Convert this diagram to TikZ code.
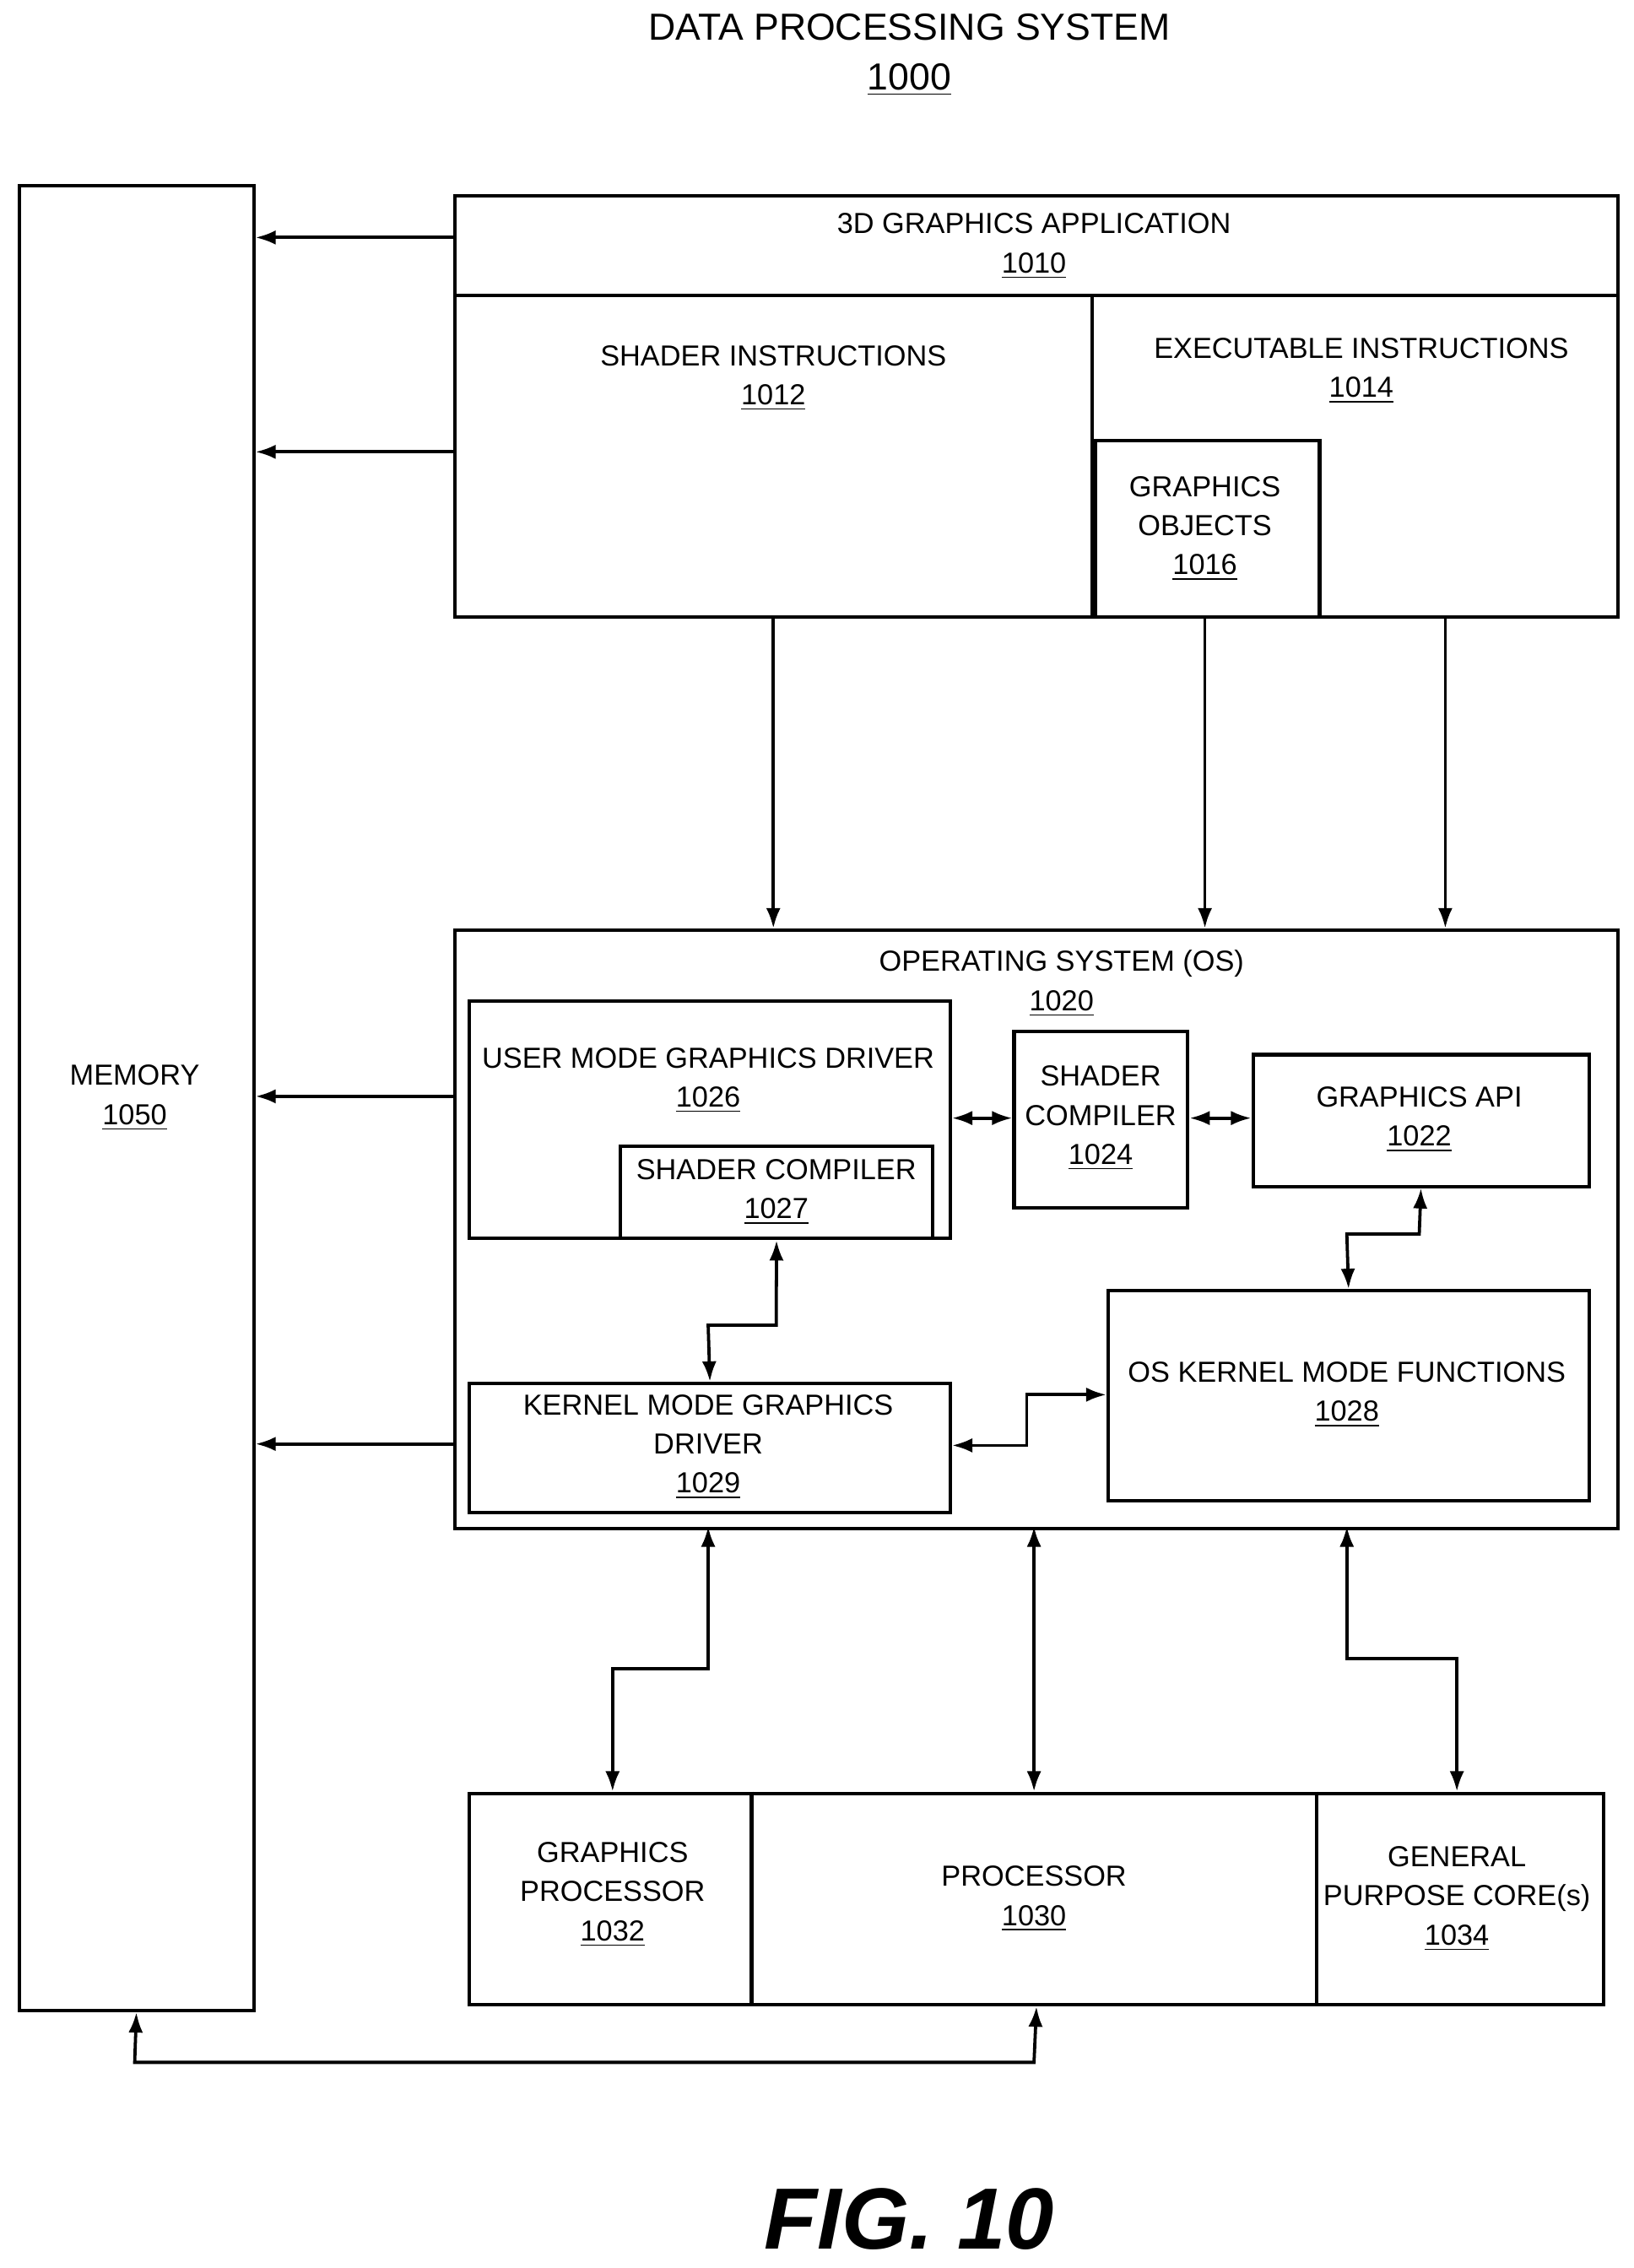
\documentclass[tikz,border=0pt]{standalone}
\usepackage{fontspec}
\setmainfont{Liberation Sans}
\usetikzlibrary{arrows.meta}
\newcommand{\refno}[1]{\underline{#1}}
\tikzset{
  box/.style={draw,line width=1.2pt,anchor=north west,inner sep=0pt},
  lbl/.style={align=center,font=\fontsize{10}{13.5}\selectfont},
  conn/.style={line width=1.1pt,-{Latex[length=7pt,width=5pt]}},
  dconn/.style={line width=1.1pt,{Latex[length=7pt,width=5pt]}-{Latex[length=7pt,width=5pt]}}
}
\newcommand{\blk}[5]{\node[box,minimum width={(#4-#2)*0.5pt},minimum height={(#5-#3)*0.5pt}] (#1) at (#2,#3) {};}
\begin{document}
\begin{tikzpicture}[x=0.5pt,y=-0.5pt]
  \useasboundingbox (0,0) rectangle (1128,1566);
  % Title
  \node[lbl,font=\fontsize{13}{17}\selectfont] (title) at (628,38) {DATA PROCESSING SYSTEM\\\refno{1000}};

  % Boxes
  \blk{mem}{12}{127}{174}{1387}
  \blk{app}{313}{134}{1116}{425}
  \blk{gobj}{755}{303}{910}{425}
  \blk{os}{313}{641}{1116}{1054}
  \blk{umgd}{323}{690}{655}{854}
  \blk{sc27}{427}{790}{643}{854}
  \blk{sc24}{699}{711}{819}{833}
  \blk{api}{864}{727}{1096}{818}
  \blk{okmf}{764}{890}{1096}{1035}
  \blk{kmgd}{323}{954}{655}{1043}
  \blk{proc}{323}{1237}{1106}{1383}
  \draw[line width=1.2pt] (313,204) -- (1116,204);
  \draw[line width=1.2pt] (754,204) -- (754,425);
  \draw[line width=1.2pt] (519,1237) -- (519,1383);
  \draw[line width=1.2pt] (909,1237) -- (909,1383);

  % Labels
  \node[lbl] at (93,758) {MEMORY\\\refno{1050}};
  \node[lbl] at (714,170) {3D GRAPHICS APPLICATION\\\refno{1010}};
  \node[lbl] at (534,261) {SHADER INSTRUCTIONS\\\refno{1012}};
  \node[lbl] at (940,256) {EXECUTABLE INSTRUCTIONS\\\refno{1014}};
  \node[lbl] at (832,365) {GRAPHICS\\OBJECTS\\\refno{1016}};
  \node[lbl] at (733,679) {OPERATING SYSTEM (OS)\\\refno{1020}};
  \node[lbl] at (489,746) {USER MODE GRAPHICS DRIVER\\\refno{1026}};
  \node[lbl] at (536,823) {SHADER COMPILER\\\refno{1027}};
  \node[lbl] at (760,772) {SHADER\\COMPILER\\\refno{1024}};
  \node[lbl] at (980,773) {GRAPHICS API\\\refno{1022}};
  \node[lbl] at (930,963) {OS KERNEL MODE FUNCTIONS\\\refno{1028}};
  \node[lbl] at (489,999) {KERNEL MODE GRAPHICS\\DRIVER\\\refno{1029}};
  \node[lbl] at (423,1308) {GRAPHICS\\PROCESSOR\\\refno{1032}};
  \node[lbl] at (714,1311) {PROCESSOR\\\refno{1030}};
  \node[lbl] at (1006,1311) {GENERAL\\PURPOSE CORE(s)\\\refno{1034}};
  \node[font=\fontsize{30}{36}\selectfont\bfseries\itshape] (fig) at (628,1532) {FIG. 10};

  % Connectors to memory
  \draw[conn] (app.west|-0,164) -- (mem.east|-0,164);
  \draw[conn] (app.west|-0,312) -- (mem.east|-0,312);
  \draw[conn] (os.west|-0,757) -- (mem.east|-0,757);
  \draw[conn] (os.west|-0,997) -- (mem.east|-0,997);

  % Application to OS
  \foreach \x in {534,832,998}
    \draw[conn] (\x,425) -- (\x,641);

  % Inside OS
  \draw[dconn] (umgd.east|-0,772) -- (sc24.west|-0,772);
  \draw[dconn] (sc24.east|-0,772) -- (api.west|-0,772);
  \draw[dconn] (api.south) -- (980,852) -- (930,852) -- (okmf.north);
  \draw[dconn] (sc27.south) -- (536,915) -- (489,915) -- (kmgd.north);
  \draw[dconn] (kmgd.east|-0,998) -- (709,998) -- (709,963) -- (okmf.west|-0,963);

  % OS to processor
  \draw[dconn] (489,1054) -- (489,1152) -- (423,1152) -- (423,1237);
  \draw[dconn] (714,1054) -- (714,1237);
  \draw[dconn] (930,1054) -- (930,1145) -- (1006,1145) -- (1006,1237);

  % Memory to processor
  \draw[dconn] (mem.south) -- (93,1424) -- (714,1424) -- (proc.south);
\end{tikzpicture}
\end{document}
